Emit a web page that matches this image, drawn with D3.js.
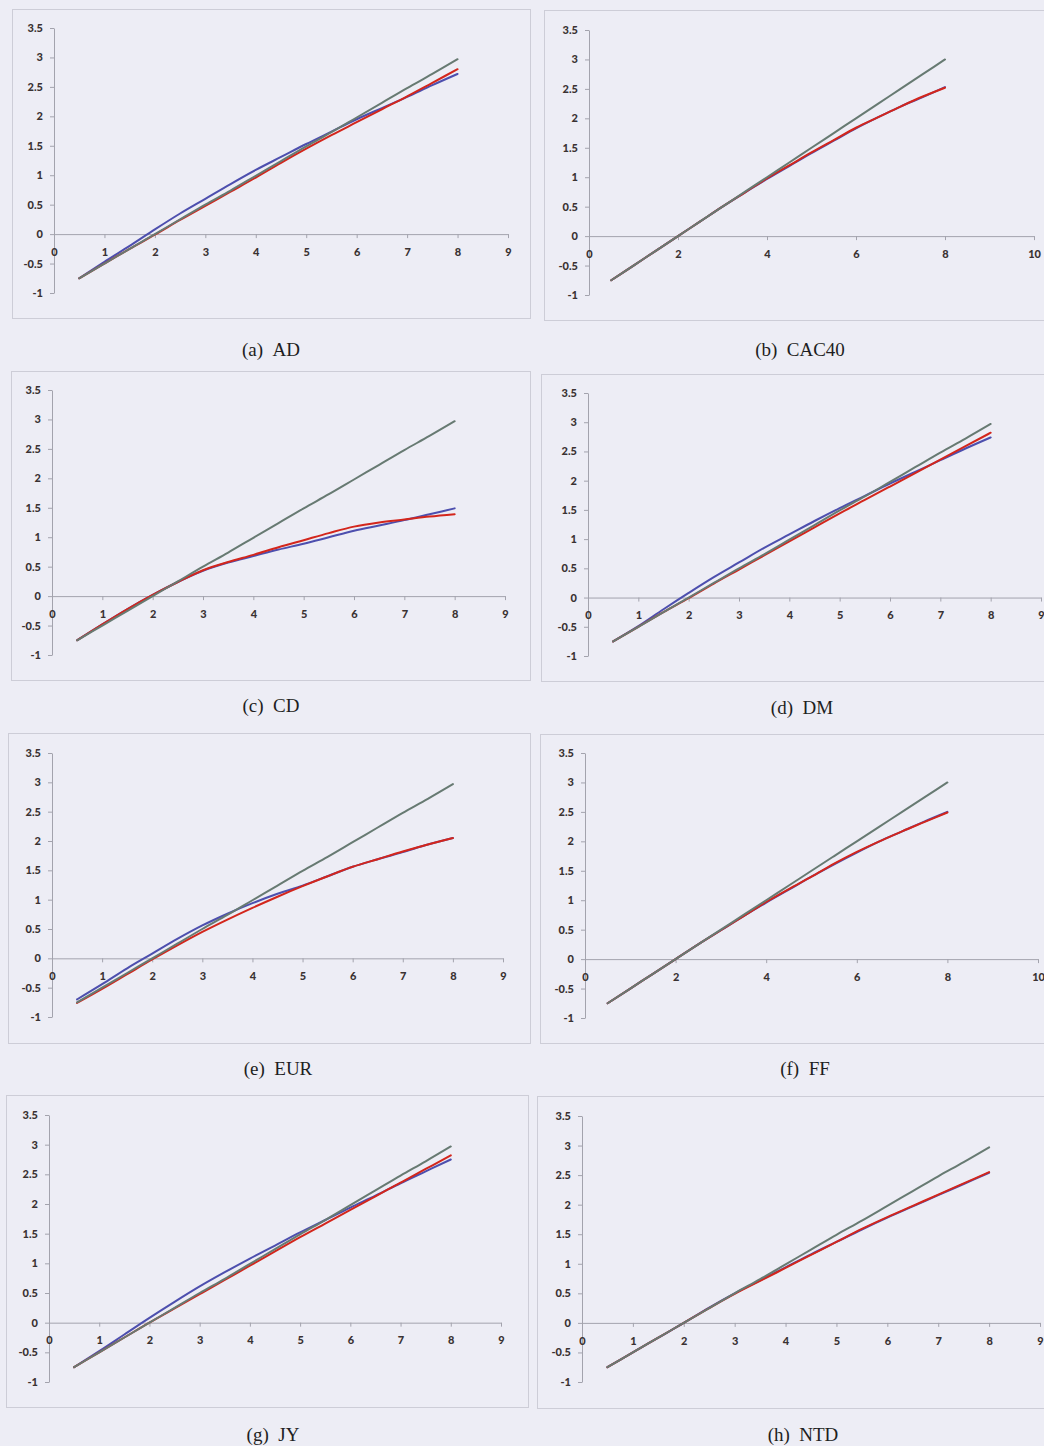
<!DOCTYPE html>
<html>
<head>
<meta charset="utf-8">
<script src="https://cdn.jsdelivr.net/npm/d3@7"></script>
<style>
  html, body { margin: 0; padding: 0; background: #ededf5; }
  svg { display: block; }
</style>
</head>
<body>
<svg id="chart" width="1044" height="1446"></svg>
<script>
// ---------------- DATA ----------------
const xValues = [0.5, 1, 1.5, 2, 2.5, 3, 3.5, 4, 4.5, 5, 5.5, 6, 6.5, 7, 7.5, 8];

const panelLabels = ["(a)", "(b)", "(c)", "(d)", "(e)", "(f)", "(g)", "(h)"];
const panelNames  = ["AD", "CAC40", "CD", "DM", "EUR", "FF", "JY", "NTD"];

const yTicks   = [-1, -0.5, 0, 0.5, 1, 1.5, 2, 2.5, 3, 3.5];
const xTicks9  = [0, 1, 2, 3, 4, 5, 6, 7, 8, 9];
const xTicks10 = [0, 2, 4, 6, 8, 10];

// reference (gray) line
const grayA  = [-0.75, -0.5, -0.25, 0, 0.25, 0.5, 0.74, 0.99, 1.24, 1.49, 1.73, 1.98, 2.23, 2.48, 2.72, 2.97];
const grayB  = [-0.75, -0.5, -0.25, 0, 0.25, 0.5, 0.75, 1.0, 1.25, 1.5, 1.75, 2.0, 2.25, 2.5, 2.75, 3.0];

const blueAD    = [-0.75, -0.47, -0.2, 0.08, 0.35, 0.6, 0.85, 1.09, 1.31, 1.53, 1.74, 1.95, 2.14, 2.33, 2.53, 2.72];
const redAD     = [-0.75, -0.5, -0.25, -0.01, 0.24, 0.48, 0.72, 0.96, 1.21, 1.45, 1.68, 1.9, 2.12, 2.34, 2.57, 2.8];

const blueCAC40 = [-0.75, -0.5, -0.25, 0, 0.25, 0.5, 0.74, 0.97, 1.19, 1.41, 1.62, 1.83, 2.02, 2.2, 2.36, 2.53];
const redCAC40  = [-0.75, -0.5, -0.25, 0, 0.25, 0.5, 0.74, 0.98, 1.2, 1.42, 1.63, 1.84, 2.02, 2.2, 2.37, 2.52];

const blueCD    = [-0.75, -0.48, -0.22, 0.02, 0.24, 0.43, 0.57, 0.68, 0.79, 0.89, 1.0, 1.11, 1.2, 1.29, 1.39, 1.49];
const redCD     = [-0.75, -0.48, -0.22, 0.02, 0.24, 0.44, 0.58, 0.7, 0.83, 0.95, 1.07, 1.18, 1.25, 1.3, 1.35, 1.39];

const blueDM    = [-0.75, -0.49, -0.2, 0.08, 0.35, 0.6, 0.85, 1.08, 1.31, 1.53, 1.74, 1.95, 2.15, 2.35, 2.55, 2.74];
const redDM     = [-0.75, -0.5, -0.25, -0.01, 0.24, 0.48, 0.72, 0.96, 1.2, 1.44, 1.67, 1.9, 2.13, 2.36, 2.59, 2.82];

const blueEUR   = [-0.7, -0.44, -0.17, 0.08, 0.33, 0.56, 0.76, 0.94, 1.1, 1.24, 1.4, 1.56, 1.69, 1.81, 1.94, 2.05];
const redEUR    = [-0.76, -0.52, -0.27, -0.02, 0.22, 0.45, 0.66, 0.86, 1.05, 1.23, 1.4, 1.56, 1.69, 1.82, 1.94, 2.05];

const blueFF    = [-0.75, -0.5, -0.25, 0, 0.25, 0.49, 0.73, 0.96, 1.18, 1.4, 1.61, 1.81, 2.0, 2.17, 2.34, 2.5];
const redFF     = [-0.75, -0.5, -0.25, 0, 0.25, 0.49, 0.73, 0.97, 1.19, 1.4, 1.62, 1.82, 2.0, 2.17, 2.33, 2.49];

const blueJY    = [-0.75, -0.48, -0.2, 0.08, 0.35, 0.61, 0.85, 1.08, 1.3, 1.52, 1.73, 1.94, 2.14, 2.35, 2.55, 2.75];
const redJY     = [-0.75, -0.5, -0.25, 0, 0.24, 0.48, 0.72, 0.96, 1.2, 1.44, 1.67, 1.9, 2.13, 2.36, 2.59, 2.82];

const blueNTD   = [-0.75, -0.5, -0.25, 0, 0.26, 0.5, 0.72, 0.94, 1.16, 1.37, 1.58, 1.78, 1.97, 2.16, 2.35, 2.54];
const redNTD    = [-0.75, -0.5, -0.25, 0, 0.25, 0.49, 0.71, 0.93, 1.15, 1.37, 1.59, 1.79, 1.98, 2.17, 2.36, 2.55];

const panelSeries = [
  { gray: grayA, blue: blueAD,    red: redAD,    xMax: 9,  xTicks: xTicks9 },
  { gray: grayB, blue: blueCAC40, red: redCAC40, xMax: 10, xTicks: xTicks10 },
  { gray: grayA, blue: blueCD,    red: redCD,    xMax: 9,  xTicks: xTicks9 },
  { gray: grayA, blue: blueDM,    red: redDM,    xMax: 9,  xTicks: xTicks9 },
  { gray: grayA, blue: blueEUR,   red: redEUR,   xMax: 9,  xTicks: xTicks9 },
  { gray: grayB, blue: blueFF,    red: redFF,    xMax: 10, xTicks: xTicks10 },
  { gray: grayA, blue: blueJY,    red: redJY,    xMax: 9,  xTicks: xTicks9 },
  { gray: grayA, blue: blueNTD,   red: redNTD,   xMax: 9,  xTicks: xTicks9 }
];

// ---------------- LAYOUT (pixels) ----------------
const layout = [
  { f: [12, 9, 530, 318],     ax: 54,  ar: 508,  yt: 28,   yb: 293,  cx: 271, cy: 356 },
  { f: [544, 10, 1062, 320],  ax: 589, ar: 1034, yt: 30,   yb: 295,  cx: 800, cy: 356 },
  { f: [11, 371, 530, 680],   ax: 52,  ar: 505,  yt: 390,  yb: 655,  cx: 271, cy: 712 },
  { f: [541, 374, 1062, 681], ax: 588, ar: 1041, yt: 393,  yb: 656,  cx: 802, cy: 714 },
  { f: [8, 733, 530, 1043],   ax: 52,  ar: 503,  yt: 753,  yb: 1017, cx: 278, cy: 1075 },
  { f: [540, 734, 1062, 1043],ax: 585, ar: 1038, yt: 753,  yb: 1018, cx: 805, cy: 1075 },
  { f: [6, 1095, 528, 1407],  ax: 49,  ar: 501,  yt: 1115, yb: 1382, cx: 273, cy: 1441 },
  { f: [537, 1096, 1062, 1408],ax: 582, ar: 1040, yt: 1116, yb: 1382, cx: 803, cy: 1441 }
];

const colors = { gray: "#677a72", blue: "#4d4fae", red: "#d3261c" };

// ---------------- DRAW ----------------
const svg = d3.select("#chart");

panelSeries.forEach((p, i) => {
  const L = layout[i];
  const g = svg.append("g");

  g.append("rect")
    .attr("x", L.f[0] + 0.5).attr("y", L.f[1] + 0.5)
    .attr("width", L.f[2] - L.f[0]).attr("height", L.f[3] - L.f[1])
    .attr("fill", "none").attr("stroke", "#cdcdd7").attr("stroke-width", 1);

  const x = d3.scaleLinear().domain([0, p.xMax]).range([L.ax, L.ar]);
  const y = d3.scaleLinear().domain([-1, 3.5]).range([L.yb, L.yt]);

  const yAxis = g.append("g")
    .attr("transform", `translate(${L.ax},0)`)
    .call(d3.axisLeft(y).tickValues(yTicks).tickSize(4).tickSizeOuter(0).tickPadding(7)
      .tickFormat(d => String(d)));
  const xAxis = g.append("g")
    .attr("transform", `translate(0,${y(0)})`)
    .call(d3.axisBottom(x).tickValues(p.xTicks).tickSize(4).tickSizeOuter(0).tickPadding(10)
      .tickFormat(d => String(d)));

  [yAxis, xAxis].forEach(a => {
    a.select(".domain").attr("stroke", "#a3a3ad");
    a.selectAll(".tick line").attr("stroke", "#a3a3ad");
    a.selectAll(".tick text")
      .attr("fill", "#3a3232")
      .style("font-family", "Lato, 'DejaVu Sans', sans-serif")
      .style("font-weight", "900")
      .style("font-size", "11px");
  });

  const line = d3.line()
    .x((d, j) => x(xValues[j]))
    .y(d => y(d))
    .curve(d3.curveMonotoneX);

  [["blue", p.blue], ["red", p.red], ["gray", p.gray]].forEach(([k, arr]) => {
    g.append("path")
      .datum(arr)
      .attr("d", line)
      .attr("fill", "none")
      .attr("stroke", colors[k])
      .attr("stroke-width", 2)
      .attr("stroke-linecap", "round");
  });

  g.append("text")
    .attr("x", L.cx).attr("y", L.cy)
    .attr("text-anchor", "middle")
    .attr("fill", "#1e1e22")
    .style("font-family", "'Liberation Serif', 'DejaVu Serif', serif")
    .style("font-size", "19px")
    .text(panelLabels[i] + "\u00a0\u00a0" + panelNames[i]);
});
</script>
</body>
</html>
